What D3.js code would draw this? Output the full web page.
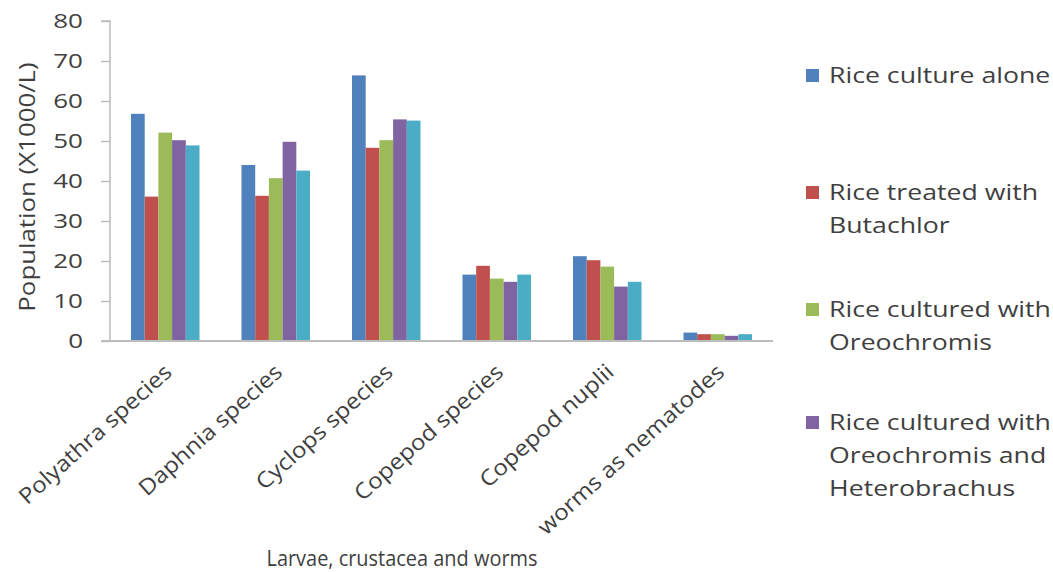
<!DOCTYPE html>
<html><head><meta charset="utf-8">
<script src="https://cdn.jsdelivr.net/npm/d3@7"></script>
<style>body{margin:0;background:#fff;}svg{display:block;}</style>
</head><body>
<svg id="c" width="1053" height="572"></svg>
<script>
const categories = ["Polyathra species","Daphnia species","Cyclops species","Copepod species","Copepod nuplii","worms as nematodes"];
const seriesNames = ["Rice culture alone","Rice treated with Butachlor","Rice cultured with Oreochromis","Rice cultured with Oreochromis and Heterobrachus","Series 5"];
const riceAlone = [56.8, 44.0, 66.4, 16.6, 21.2, 2.1];
const butachlor = [36.1, 36.3, 48.3, 18.8, 20.2, 1.7];
const oreochromis = [52.1, 40.7, 50.2, 15.6, 18.6, 1.7];
const oreoHetero = [50.2, 49.8, 55.4, 14.8, 13.6, 1.3];
const series5 = [48.9, 42.6, 55.1, 16.6, 14.8, 1.7];
const yTicks = [0,10,20,30,40,50,60,70,80];
const legendLines = [["Rice culture alone"],["Rice treated with","Butachlor"],["Rice cultured with","Oreochromis"],["Rice cultured with","Oreochromis and","Heterobrachus"]];
const colors = ["#4F81BD","#C0504D","#9BBB59","#8064A2","#4BACC6"];
const seriesVals = [riceAlone, butachlor, oreochromis, oreoHetero, series5];

const svg = d3.select("#c");
const font = "'Open Sans', sans-serif";
const txt = "#3f3f3f";
const pL = 110, pR = 773, pT = 21, pB = 341;
const x = d3.scaleBand().domain(categories).range([pL, pR]).paddingInner(0.38).paddingOuter(0.19);
const xs = d3.scaleBand().domain(d3.range(5)).range([0, x.bandwidth()]);
const y = d3.scaleLinear().domain([0, 80]).range([pB, pT]);

// bars
categories.forEach((c, ci) => {
  svg.append("g").selectAll("rect").data(seriesVals.map((s, si) => ({si, v: s[ci]})))
    .join("rect")
    .attr("x", d => x(c) + xs(d.si))
    .attr("width", xs.bandwidth())
    .attr("y", d => y(d.v))
    .attr("height", d => y(0) - y(d.v))
    .attr("fill", d => colors[d.si]);
});

// y axis
const ya = svg.append("g").attr("transform", `translate(${pL},0)`)
  .call(d3.axisLeft(y).tickValues(yTicks).tickSize(9).tickPadding(18));
ya.select(".domain").attr("stroke", "#bcbcbc").attr("stroke-width", 1.5).attr("d", `M-9,${pT}H0V${pB}`);
ya.selectAll(".tick line").attr("stroke", "#bcbcbc").attr("stroke-width", 1.5);
ya.selectAll(".tick text").attr("x", 0).attr("transform", "translate(-27,0) scale(1.3,1)")
  .attr("font-family", font).attr("font-size", 20).attr("fill", txt);

// x axis line
svg.append("line").attr("x1", pL - 9).attr("x2", pR).attr("y1", pB).attr("y2", pB)
  .attr("stroke", "#bcbcbc").attr("stroke-width", 2);

// x labels
svg.append("g").selectAll("text").data(categories).join("text")
  .attr("transform", d => `translate(${x(d) + x.bandwidth()/2 + 8},${pB + 33}) rotate(-42) scale(1.1,1)`)
  .attr("text-anchor", "end")
  .attr("font-family", font).attr("font-size", 22).attr("fill", txt)
  .text(d => d);

// axis titles
svg.append("text").attr("transform", `translate(35,187) rotate(-90) scale(1.23,1)`)
  .attr("text-anchor", "middle").attr("font-family", font).attr("font-size", 21).attr("fill", txt)
  .text("Population (X1000/L)");
svg.append("text").attr("transform", `translate(402,566) scale(0.95,1)`)
  .attr("text-anchor", "middle").attr("font-family", font).attr("font-size", 21).attr("fill", txt)
  .text("Larvae, crustacea and worms");

// legend
const legendY = [76, 193, 310, 423];
const lg = svg.append("g");
legendLines.forEach((lines, i) => {
  lg.append("rect").attr("x", 806).attr("y", legendY[i] - 7).attr("width", 13).attr("height", 13).attr("fill", colors[i]);
  lines.forEach((t, j) => {
    lg.append("text").attr("transform", `translate(829,${legendY[i] + j * 33}) scale(1.27,1)`).attr("dy", "0.35em")
      .attr("font-family", font).attr("font-size", 21).attr("fill", txt).text(t);
  });
});
</script>
</body></html>
